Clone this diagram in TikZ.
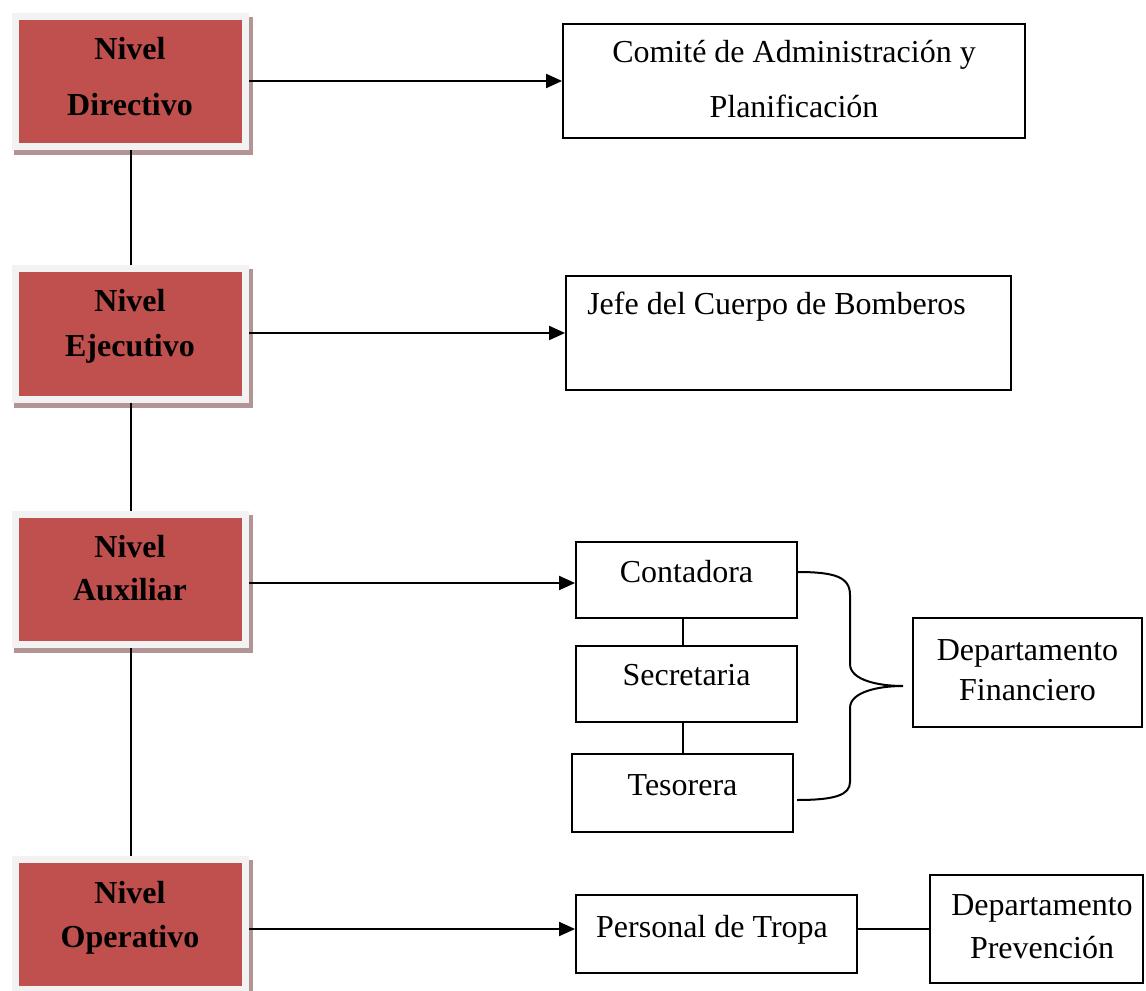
\documentclass[tikz,border=0pt]{standalone}
\usepackage{fontspec}
\setmainfont{Liberation Serif}
\usetikzlibrary{arrows.meta,backgrounds,calc}
\definecolor{lvlred}{HTML}{C0504D}
\definecolor{lvlframe}{HTML}{F2F2F2}
\definecolor{lvlshadow}{HTML}{B39494}
\begin{document}
\begin{tikzpicture}[x=0.75pt,y=-0.75pt,
  every node/.style={font=\fontsize{24}{28}\selectfont},
  level/.style={draw=lvlframe, fill=lvlred, line width=5.25pt,
    minimum width=172.5pt, minimum height=97.5pt, inner sep=0pt},
  plainbox/.style={draw=black, line width=1.4pt, inner sep=0pt},
  lbl/.style={anchor=base, inner sep=0pt},
  blbl/.style={anchor=base, inner sep=0pt, font=\fontsize{24}{28}\selectfont\bfseries},
  conn/.style={line width=1.5pt},
  arr/.style={line width=1.5pt, -{Triangle[length=12pt,width=10.5pt]}}]
\useasboundingbox (0,0) rectangle (1146,991);

% level boxes
\node[level] (d) at (130.5,81.5) {};
\node[level] (e) at (130.5,334) {};
\node[level] (a) at (130.5,579.5) {};
\node[level] (o) at (130.5,924.5) {};

\begin{scope}[on background layer]
  \foreach \n in {d,e,a,o}{
    \fill[lvlshadow] ($(\n.north west)+(2,4)$) rectangle ($(\n.south east)+(4,5)$);
  }
\end{scope}

\node[blbl] (d1) at (130,60) {Nivel};
\node[blbl] (d2) at (130,116) {Directivo};
\node[blbl] (e1) at (130,312) {Nivel};
\node[blbl] (e2) at (130,356) {Ejecutivo};
\node[blbl] (a1) at (130,557) {Nivel};
\node[blbl] (a2) at (130,600) {Auxiliar};
\node[blbl] (o1) at (130,903) {Nivel};
\node[blbl] (o2) at (130,947) {Operativo};

% right boxes
\node[plainbox, minimum width=346.5pt, minimum height=85.5pt] (comite) at (794,81) {};
\node[lbl] (c1) at (794,63) {Comité de Administración y};
\node[lbl] (c2) at (794,118) {Planificación};

\node[plainbox, minimum width=333.75pt, minimum height=85.5pt] (jefe) at (788.5,333) {};
\node[lbl, anchor=base west] (j1) at (587,315) {Jefe del Cuerpo de Bomberos};

\node[plainbox, minimum width=165.75pt, minimum height=57pt] (conta) at (686.5,580) {};
\node[lbl] (ct) at (686.5,582) {Contadora};
\node[plainbox, minimum width=165.75pt, minimum height=57pt] (sec) at (686.5,684) {};
\node[lbl] (st) at (686.5,685) {Secretaria};
\node[plainbox, minimum width=165.75pt, minimum height=58.5pt] (tes) at (682.5,793) {};
\node[lbl] (tt) at (682.5,795) {Tesorera};

\node[plainbox, minimum width=171.75pt, minimum height=81.75pt] (fin) at (1027.5,672.5) {};
\node[lbl] (f1) at (1027.5,660) {Departamento};
\node[lbl] (f2) at (1027.5,700) {Financiero};

\node[plainbox, minimum width=210.75pt, minimum height=58.5pt] (tropa) at (716.5,934) {};
\node[lbl] (tr) at (712,937) {Personal de Tropa};

\node[plainbox, minimum width=159.75pt, minimum height=81pt] (prev) at (1036.5,929) {};
\node[lbl] (p1) at (1042,915) {Departamento};
\node[lbl] (p2) at (1042,958) {Prevención};

% vertical level connectors
\draw[conn] (d.south) -- (e.north);
\draw[conn] (e.south) -- (a.north);
\draw[conn] (a.south) -- (o.north);

% arrows
\coordinate (ya) at (0,583);
\draw[arr] (d.east |- comite.west) -- (comite.west);
\draw[arr] (e.east |- jefe.west) -- (jefe.west);
\draw[arr] (a.east |- ya) -- (conta.west |- ya);
\draw[arr] (o.east |- prev.west) -- (tropa.west |- prev.west);
\draw[conn] (tropa.east |- prev.west) -- (prev.west);

% financial chain
\draw[conn] (conta.south -| tes.north) -- (sec.north -| tes.north);
\draw[conn] (sec.south -| tes.north) -- (tes.north);

% brace
\coordinate (btop) at (797,572);
\coordinate (bbot) at (797,800);
\coordinate (btip) at (903,686);
\draw[conn] (btop) .. controls (835,572) and (850,577) .. (850,595) -- (850,664)
  .. controls (850,680) and (878,686) .. (btip)
  .. controls (878,686) and (850,692) .. (850,708) -- (850,782)
  .. controls (850,795) and (835,800) .. (bbot);
\end{tikzpicture}
\end{document}
